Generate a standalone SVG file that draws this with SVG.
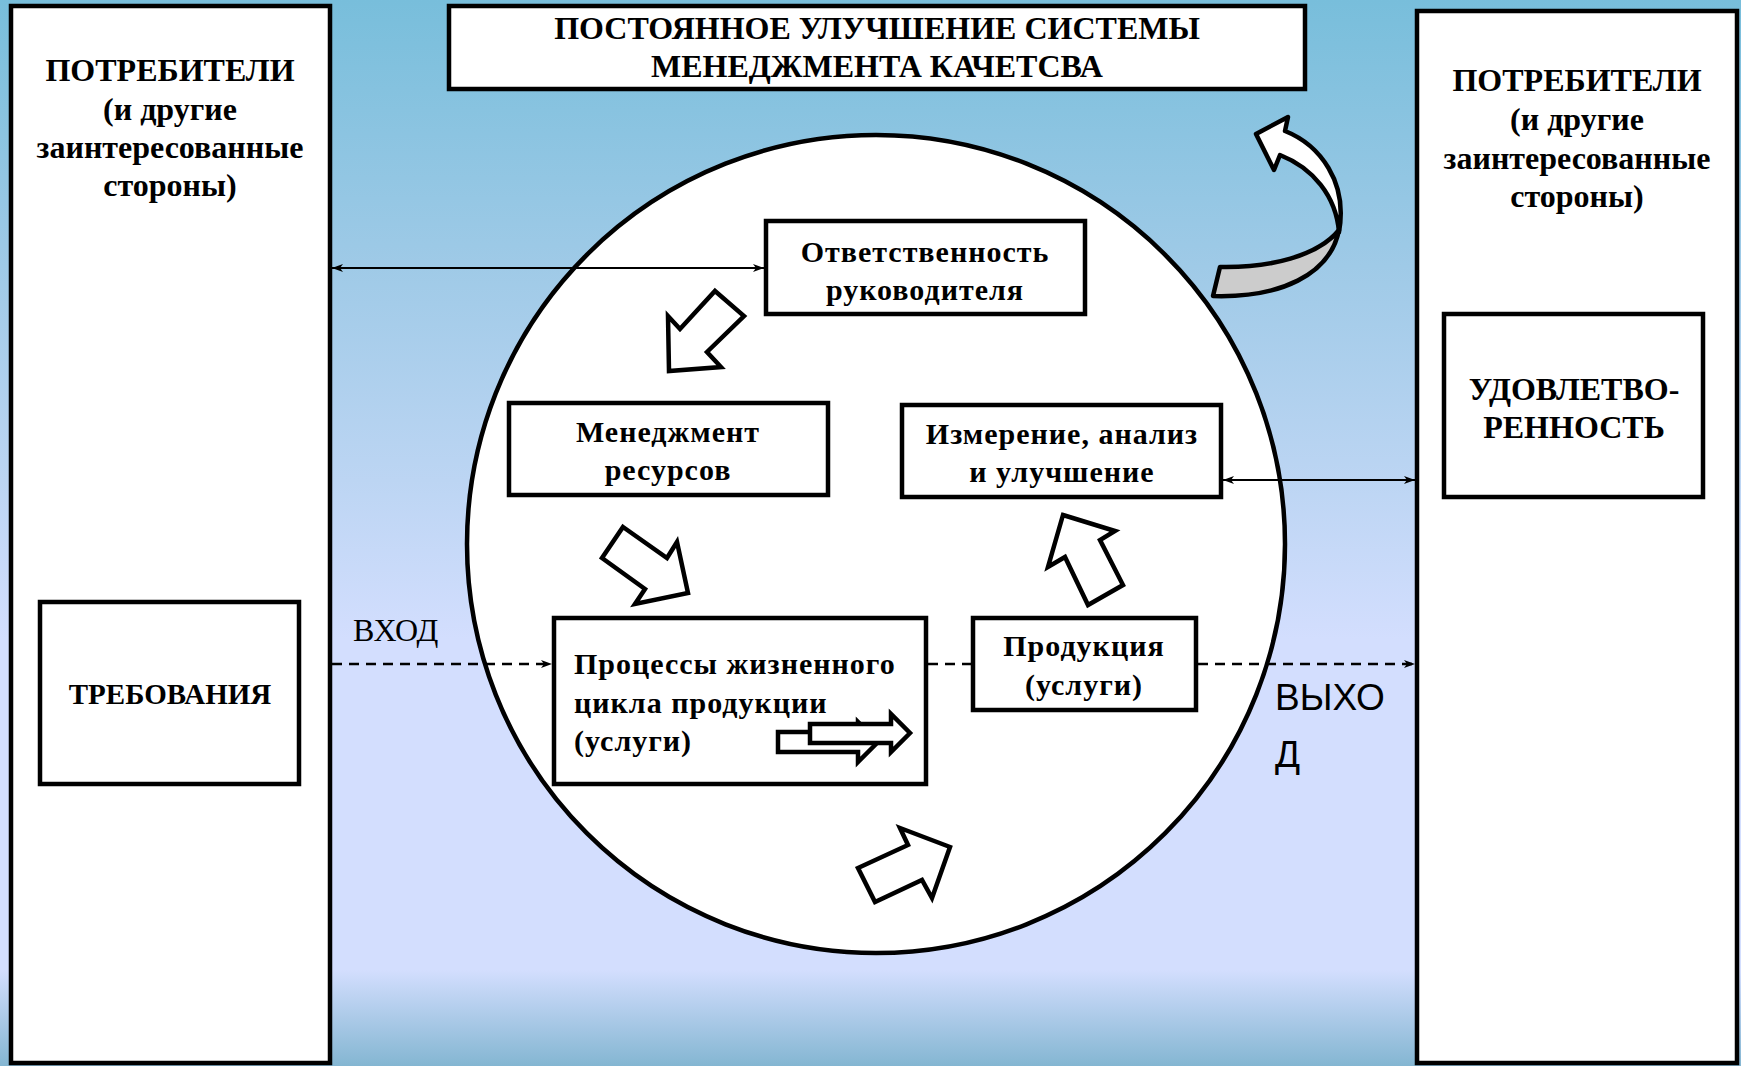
<svg xmlns="http://www.w3.org/2000/svg" width="1741" height="1066" viewBox="0 0 1741 1066">
<defs>
<linearGradient id="bg" x1="0" y1="0" x2="0" y2="1">
<stop offset="0" stop-color="#78bedb"/>
<stop offset="0.25" stop-color="#9fcae7"/>
<stop offset="0.45" stop-color="#bcd5f3"/>
<stop offset="0.6" stop-color="#d3defe"/>
<stop offset="0.91" stop-color="#d3defe"/>
<stop offset="1" stop-color="#84b6d2"/>
</linearGradient>
<marker id="ah" markerWidth="12" markerHeight="10" refX="11" refY="5" orient="auto-start-reverse" markerUnits="userSpaceOnUse">
<path d="M0,1 L11,5 L0,9 L3,5 z" fill="#000"/>
</marker>
<style>
.box{fill:#fff;stroke:#000;stroke-width:4.5}
.blk{fill:#fff;stroke:#000;stroke-width:4.5;stroke-linejoin:miter}
.t{font-family:"Liberation Serif","Times New Roman",serif;font-weight:bold;fill:#000}
.c{text-anchor:middle}
.ln{stroke:#000;stroke-width:2;fill:none}
.ds{stroke:#000;stroke-width:2.5;fill:none;stroke-dasharray:10 7}
</style>
</defs>
<rect x="0" y="0" width="1741" height="1066" fill="url(#bg)"/>

<g id="left-panel">
<rect class="box" x="11" y="6" width="319" height="1057"/>
<text class="t c" font-size="32" x="170" y="81">ПОТРЕБИТЕЛИ</text>
<text class="t c" font-size="32" x="170" y="120">(и другие</text>
<text class="t c" font-size="32" x="170" y="158">заинтересованные</text>
<text class="t c" font-size="32" x="170" y="196">стороны)</text>
</g>
<g id="right-panel">
<rect class="box" x="1417" y="11" width="320" height="1052"/>
<text class="t c" font-size="32" x="1577" y="91">ПОТРЕБИТЕЛИ</text>
<text class="t c" font-size="32" x="1577" y="130">(и другие</text>
<text class="t c" font-size="32" x="1577" y="169">заинтересованные</text>
<text class="t c" font-size="32" x="1577" y="207">стороны)</text>
</g>
<g id="title">
<rect class="box" x="449" y="6" width="856" height="83"/>
<text class="t c" font-size="32" x="877" y="39">ПОСТОЯННОЕ УЛУЧШЕНИЕ СИСТЕМЫ</text>
<text class="t c" font-size="32" x="877" y="77">МЕНЕДЖМЕНТА КАЧЕТСВА</text>
</g>
<g id="circle">
<circle cx="876" cy="544" r="409" fill="#fff" stroke="#000" stroke-width="4.5"/>
</g>
<g id="curved-arrow">
<path d="M1339,230 C1330,275 1280,298 1213,296 L1220,267 C1270,268 1318,256 1339,230 Z" fill="#cccccc" stroke="#000" stroke-width="4.5" stroke-linejoin="round"/>
<path d="M1285,131 C1320,145 1348,182 1339,232 C1336,196 1313,168 1280,155 L1274,170 L1256,134 L1288,117 Z" fill="#fff" stroke="#000" stroke-width="4.5" stroke-linejoin="round"/>
</g>
<g id="otvetstvennost">
<rect class="box" x="766" y="221" width="319" height="93"/>
<text class="t c" font-size="30" letter-spacing="1" x="925" y="262">Ответственность</text>
<text class="t c" font-size="30" letter-spacing="1" x="925" y="300">руководителя</text>
</g>
<g id="menedzhment">
<rect class="box" x="509" y="403" width="319" height="92"/>
<text class="t c" font-size="30" letter-spacing="1" x="668" y="442">Менеджмент</text>
<text class="t c" font-size="30" letter-spacing="1" x="668" y="480">ресурсов</text>
</g>
<g id="izmerenie">
<rect class="box" x="902" y="405" width="319" height="92"/>
<text class="t c" font-size="30" letter-spacing="1" x="1062" y="444">Измерение, анализ</text>
<text class="t c" font-size="30" letter-spacing="1" x="1062" y="482">и улучшение</text>
</g>
<g id="processy">
<rect class="box" x="554" y="618" width="372" height="166"/>
<text class="t" font-size="30" letter-spacing="1" x="574" y="674">Процессы жизненного</text>
<text class="t" font-size="30" letter-spacing="1" x="574" y="713">цикла продукции</text>
<text class="t" font-size="30" letter-spacing="1" x="574" y="751">(услуги)</text>
<path class="blk" stroke-width="4" d="M778,732 L858,732 L858,722 L878,742 L858,762 L858,752 L778,752 Z"/>
<path class="blk" stroke-width="4" d="M810,724 L891,724 L891,714 L910,733 L891,752 L891,743 L810,743 Z"/>
</g>
<g id="produkciya">
<rect class="box" x="973" y="618" width="223" height="92"/>
<text class="t c" font-size="30" letter-spacing="1" x="1084" y="656">Продукция</text>
<text class="t c" font-size="30" letter-spacing="1" x="1084" y="695">(услуги)</text>
</g>
<g id="trebovaniya">
<rect class="box" x="40" y="602" width="259" height="182"/>
<text class="t c" font-size="29" x="170" y="704">ТРЕБОВАНИЯ</text>
</g>
<g id="udovletvorennost">
<rect class="box" x="1444" y="314" width="259" height="183"/>
<text class="t c" font-size="32" x="1574" y="400">УДОВЛЕТВО-</text>
<text class="t c" font-size="32" x="1574" y="438">РЕННОСТЬ</text>
</g>
<g id="block-arrows">
<path class="blk" d="M715,291 L744,316 L707,352 L721,367 L669,371 L668,316 L680,329 Z"/>
<path class="blk" d="M623,527 L667,558 L677,542 L688,593 L635,604 L645,589 L602,558 Z"/>
<path class="blk" d="M1063,515 L1115,531 L1100,540 L1123,585 L1088,605 L1065,557 L1048,567 Z"/>
<path class="blk" d="M858,868 L908,845 L900,828 L950,847 L932,898 L922,880 L875,902 Z"/>
</g>
<g id="connectors">
<line class="ln" x1="332" y1="268" x2="764" y2="268" marker-start="url(#ah)" marker-end="url(#ah)"/>
<line class="ln" x1="1223" y1="480" x2="1415" y2="480" marker-start="url(#ah)" marker-end="url(#ah)"/>
<line class="ds" x1="332" y1="664" x2="552" y2="664" marker-end="url(#ah)"/>
<line class="ds" x1="928" y1="664" x2="971" y2="664"/>
<line class="ds" x1="1198" y1="664" x2="1415" y2="664" marker-end="url(#ah)"/>
</g>
<g id="labels">
<text font-family="Liberation Serif, serif" font-size="32" x="353" y="641">ВХОД</text>
<text font-family="Liberation Sans, Arial, sans-serif" font-size="37" x="1275" y="710">ВЫХО</text>
<text font-family="Liberation Sans, Arial, sans-serif" font-size="37" x="1275" y="767">Д</text>
</g>
</svg>
